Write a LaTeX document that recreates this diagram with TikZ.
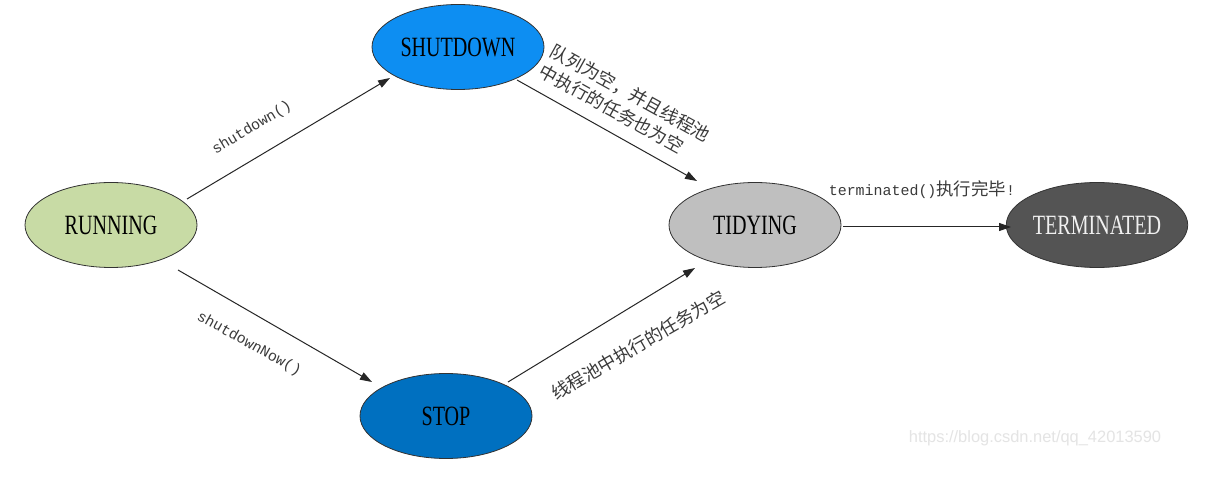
\documentclass[tikz,border=0pt]{standalone}
\usepackage{fontspec}
\setmainfont{Liberation Serif}
\newfontfamily\nodefont[FakeStretch=0.72]{Liberation Serif}
\newfontfamily\monofont{Liberation Mono}
\newfontfamily\cjkfont{Noto Sans CJK SC}
\newfontfamily\wmfont{Liberation Sans}
\usetikzlibrary{shapes.geometric,arrows.meta,calc}
\definecolor{runc}{HTML}{C8DBA5}
\definecolor{shutc}{HTML}{0D8EF2}
\definecolor{stopc}{HTML}{0070C0}
\definecolor{tidyc}{HTML}{BFBFBF}
\definecolor{termc}{HTML}{545454}
\definecolor{lblc}{HTML}{3A3A3A}
\definecolor{wmc}{HTML}{E4E4E4}
\newcommand\cj[1]{{\cjkfont\fontsize{17.5}{23}\selectfont #1}}
\newcommand\mo[1]{{\monofont #1}}
\begin{document}
\begin{tikzpicture}[x=1bp,y=-1bp,
  state/.style={ellipse, draw=black!80, line width=0.8bp, minimum width=172bp,
    minimum height=85bp, inner sep=0pt,
    font=\nodefont\fontsize{28}{30}\selectfont, text=black},
  arr/.style={draw=black!85, line width=1bp, -{Triangle[length=12bp,width=8bp]}},
  lbl/.style={text=lblc, inner sep=0pt, font=\fontsize{15}{22}\selectfont},
  cjlbl/.style={text=lblc, inner sep=0pt, align=left,
    font=\cjkfont\fontsize{18}{23}\selectfont},
  wm/.style={text=wmc, inner sep=0pt, font=\wmfont\fontsize{16.5}{20}\selectfont}
]
\useasboundingbox[fill=white] (0,0) rectangle (1209,503);

\node[state, fill=runc]  (run)  at (111,225)  {RUNNING};
\node[state, fill=shutc] (shut) at (458,47)   {SHUTDOWN};
\node[state, fill=stopc] (stop) at (446,416)  {STOP};
\node[state, fill=tidyc] (tidy) at (755,225)  {TIDYING};
\node[state, fill=termc, text=white!94!black] (term) at (1097,225) {TERMINATED};

\draw[arr] ($(run)+(76,-26)$) -- ($(shut)+(-68,31)$);
\draw[arr] ($(shut)+(59,33)$) -- ($(tidy)+(-58,-44)$);
\draw[arr] ($(run)+(67,45)$)  -- ($(stop)+(-74,-34)$);
\draw[arr] ($(stop)+(62,-34)$) -- ($(tidy)+(-60,43)$);
\draw[arr] ($(tidy)+(88,2)$)  -- ($(term)+(-86,2)$);

\node[lbl, rotate=31]  (l1) at (252,128) {\mo{shutdown()}};
\node[lbl, rotate=-29] (l2) at (249,344) {\mo{shutdownNow()}};
\node[cjlbl, rotate=-29] (l3) at (625,103) {队列为空，并且线程池\\中执行的任务也为空};
\node[cjlbl, rotate=30] (l4) at (638,345) {线程池中执行的任务为空};
\node[lbl] (l5) at (922,190) {\mo{terminated()}\cj{执行完毕}\mo{!}};

\node[wm] (wmk) at (1035,438) {https://blog.csdn.net/qq\_42013590};
\end{tikzpicture}
\end{document}
